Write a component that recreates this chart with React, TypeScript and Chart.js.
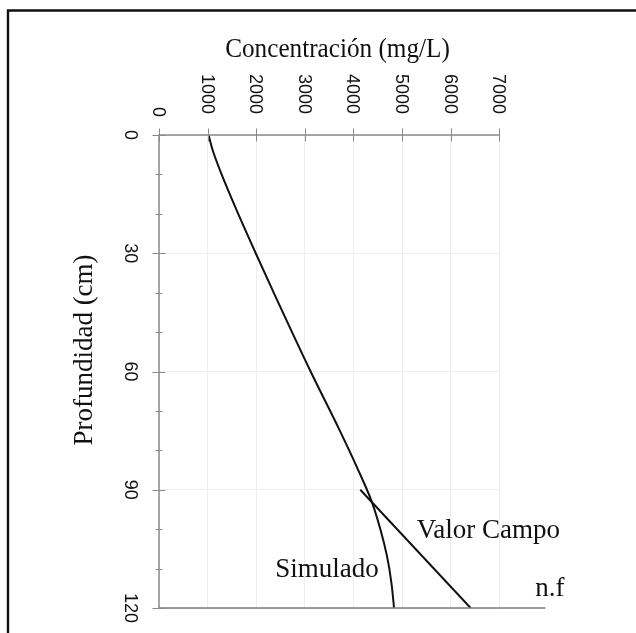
import React, { useEffect, useRef } from "react";
import { Chart, registerables } from "chart.js";

Chart.register(...registerables);

// Simulado curve (depth cm, concentration mg/L)
const depthSim = [0, 4, 10, 19, 30, 41, 60, 75, 84, 93, 103.5, 110, 119, 120];
const concSim = [1020, 1108, 1288, 1594, 1990, 2397, 3119, 3719, 4061, 4376, 4628, 4738, 4828, 4832];
// Valor Campo line
const depthCampo = [90, 120];
const concCampo = [4140, 6410];
// n.f (nivel freático) line
const depthNF = [120, 120];
const concNF = [0, 7950];

const xTicks = [0, 1000, 2000, 3000, 4000, 5000, 6000, 7000];
const yTicks = [0, 30, 60, 90, 120];
const yMinorTicks = [0, 10, 20, 30, 40, 50, 60, 70, 80, 90, 100, 110, 120];

const annText = ["Valor Campo", "Simulado", "n.f"];
const annX = [5300, 2390, 7740];
const annY = [102.3, 112.2, 117];

const xTitle = "Concentración (mg/L)";
const yTitle = "Profundidad (cm)";

const SERIF = "'Liberation Serif', 'Times New Roman', serif";
const SANS = "'Liberation Sans', Arial, sans-serif";

const decorPlugin = {
  id: "decor",
  beforeDraw(chart: any) {
    const ctx = chart.ctx;
    ctx.save();
    ctx.fillStyle = "#ffffff";
    ctx.fillRect(0, 0, chart.width, chart.height);
    ctx.strokeStyle = "#111111";
    ctx.lineWidth = 2.4;
    ctx.beginPath();
    ctx.moveTo(8, chart.height + 2);
    ctx.lineTo(8, 10.5);
    ctx.lineTo(chart.width + 2, 10.5);
    ctx.stroke();
    ctx.restore();
  },
  afterDraw(chart: any) {
    const ctx = chart.ctx;
    const xs = chart.scales.x;
    const ys = chart.scales.y;
    const top = ys.getPixelForValue(0);
    const bottom = ys.getPixelForValue(120);
    const left = xs.getPixelForValue(0);
    const right = xs.getPixelForValue(7000);
    ctx.save();
    ctx.strokeStyle = "#8a8a8a";
    ctx.lineWidth = 1.5;
    ctx.beginPath();
    ctx.moveTo(left, bottom);
    ctx.lineTo(left, top);
    ctx.lineTo(right, top);
    ctx.stroke();
    ctx.lineWidth = 1;
    ctx.beginPath();
    xTicks.forEach((v) => {
      const px = Math.round(xs.getPixelForValue(v)) + 0.5;
      ctx.moveTo(px, top - 6.5);
      ctx.lineTo(px, top + 6.5);
    });
    yMinorTicks.forEach((v) => {
      const py = Math.round(ys.getPixelForValue(v)) + 0.5;
      const major = yTicks.indexOf(v) >= 0;
      const h = major ? 6.5 : 3.5;
      ctx.moveTo(left - h, py);
      ctx.lineTo(left + h, py);
    });
    ctx.stroke();

    // x tick labels (rotated clockwise)
    ctx.fillStyle = "#111111";
    ctx.font = `18px ${SANS}`;
    xTicks.forEach((v) => {
      const px = xs.getPixelForValue(v) - 1;
      ctx.save();
      ctx.translate(px, v === 0 ? 117 : 114);
      ctx.rotate(Math.PI / 2);
      ctx.textAlign = "right";
      ctx.textBaseline = "middle";
      ctx.fillText(String(v), 0, 0);
      ctx.restore();
    });
    // y tick labels (rotated clockwise)
    yTicks.forEach((v) => {
      const py = ys.getPixelForValue(v);
      ctx.save();
      ctx.translate(130, py);
      ctx.rotate(Math.PI / 2);
      ctx.textAlign = "center";
      ctx.textBaseline = "middle";
      ctx.fillText(String(v), 0, 0);
      ctx.restore();
    });

    // titles
    ctx.textAlign = "center";
    ctx.textBaseline = "alphabetic";
    ctx.save();
    ctx.translate(337.5, 57);
    ctx.scale(0.9, 1);
    ctx.font = `28px ${SERIF}`;
    ctx.fillText(xTitle, 0, 0);
    ctx.restore();
    ctx.save();
    ctx.translate(92, 350);
    ctx.rotate(-Math.PI / 2);
    ctx.font = `27px ${SERIF}`;
    ctx.fillText(yTitle, 0, 0);
    ctx.restore();

    // annotations
    ctx.font = `27px ${SERIF}`;
    ctx.textAlign = "left";
    annText.forEach((t, i) => {
      ctx.fillText(t, xs.getPixelForValue(annX[i]), ys.getPixelForValue(annY[i]));
    });
    ctx.restore();
  },
};

export default function App() {
  const ref = useRef<HTMLCanvasElement | null>(null);
  useEffect(() => {
    if (!ref.current) return;
    const mk = (xs: number[], ys: number[]) => xs.map((x, i) => ({ x, y: ys[i] }));
    const chart = new Chart(ref.current, {
      type: "line",
      data: {
        datasets: [
          {
            label: "n.f",
            data: mk(concNF, depthNF),
            borderColor: "#7a7a7a",
            borderWidth: 1.6,
            pointRadius: 0,
            clip: false as any,
            tension: 0,
          },
          {
            label: "Simulado",
            data: mk(concSim, depthSim),
            borderColor: "#111111",
            borderWidth: 2,
            pointRadius: 0,
            cubicInterpolationMode: "monotone",
          },
          {
            label: "Valor Campo",
            data: mk(concCampo, depthCampo),
            borderColor: "#111111",
            borderWidth: 2,
            pointRadius: 0,
            tension: 0,
          },
        ],
      },
      options: {
        indexAxis: "y",
        animation: false,
        responsive: false,
        layout: { padding: { left: 159, top: 135, right: 136.7, bottom: 25 } },
        plugins: { legend: { display: false }, tooltip: { enabled: false } },
        scales: {
          x: {
            type: "linear",
            position: "top",
            min: 0,
            max: 7000,
            ticks: { display: false, stepSize: 1000 },
            grid: { color: "#eeeeee", lineWidth: 1, drawTicks: false },
            border: { display: false },
          },
          y: {
            type: "linear",
            reverse: true,
            min: 0,
            max: 120,
            ticks: { display: false, stepSize: 30 },
            grid: { color: "#eeeeee", lineWidth: 1, drawTicks: false },
            border: { display: false },
          },
        },
      },
      plugins: [decorPlugin],
    });
    return () => chart.destroy();
  }, []);
  return (
    <div style={{ position: "absolute", left: 0, top: 0, width: 636, height: 633 }}>
      <canvas ref={ref} width={636} height={633} style={{ display: "block" }} />
    </div>
  );
}
